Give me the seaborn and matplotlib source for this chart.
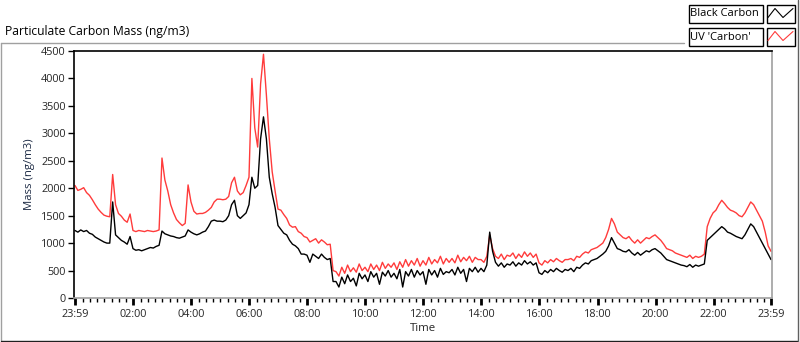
import numpy as np
import pandas as pd
import matplotlib
matplotlib.use("Agg")
import matplotlib.pyplot as plt
from matplotlib.ticker import FixedLocator
from matplotlib.patches import Rectangle
from matplotlib.lines import Line2D
import seaborn as sns

# ---------------- data (6-minute steps from 23:59 to 23:59) ----------------
minutes = np.arange(0, 1441, 6)

uv_carbon = [
    2050, 1960, 1980, 2010, 1920, 1870, 1790, 1700, 1620, 1560,
    1510, 1490, 1480, 2250, 1700, 1540, 1490, 1420, 1380, 1530,
    1230, 1210, 1230, 1220, 1210, 1230, 1220, 1210, 1220, 1240,
    2550, 2150, 1950, 1700, 1550, 1430, 1370, 1320, 1360, 2060,
    1750, 1580, 1530, 1540, 1540, 1560, 1600, 1650, 1750, 1800,
    1800, 1790, 1800, 1850, 2100, 2200, 1950, 1880, 1920, 2050,
    2200, 4000, 3100, 2750, 3900, 4440, 3700, 2900, 2300, 1950,
    1620, 1600, 1520, 1450, 1330, 1290, 1300, 1210, 1180, 1120,
    1100, 1020, 1050, 1080, 1000, 1060, 1020, 970, 980, 500,
    480, 400, 560, 450, 600, 480, 550, 470, 620, 500,
    560, 480, 620, 520, 600, 500, 650, 540, 620, 560,
    640, 520, 660, 560, 700, 580, 680, 600, 720, 580,
    680, 600, 740, 620, 700, 640, 760, 620, 720, 650,
    720, 640, 780, 660, 740, 680, 760, 650, 740, 700,
    700, 650, 760, 1150, 900, 760, 720, 800, 700, 780,
    760, 820, 720, 800, 740, 840, 760, 820, 740, 800,
    640, 600, 680, 640, 700, 660, 720, 680, 650, 700,
    700, 720, 680, 760, 740, 800, 840, 820, 880, 900,
    920, 960, 1000, 1100, 1250, 1450, 1350, 1200, 1150, 1100,
    1080, 1120, 1050, 1000, 1060, 1000, 1050, 1100, 1080, 1120,
    1150, 1100, 1050, 980, 900, 880, 860, 820, 800, 780,
    760, 740, 780, 720, 760, 740, 760, 800, 1300, 1450,
    1550, 1600, 1700, 1780, 1720, 1650, 1600, 1580, 1550, 1500,
    1480, 1550, 1650, 1750, 1700, 1600, 1500, 1400, 1200, 950,
    850,
]

black_carbon = [
    1230, 1200, 1240, 1210, 1230, 1180, 1160, 1110, 1080, 1050,
    1020, 1000, 1000, 1750, 1150, 1100, 1050, 1020, 980, 1120,
    900, 870, 880, 860, 880, 900, 920, 910, 940, 960,
    1220, 1170, 1150, 1130, 1120, 1100, 1090, 1110, 1130, 1240,
    1200, 1170, 1150, 1170, 1200, 1220, 1300, 1400, 1420, 1400,
    1400, 1390, 1420, 1500, 1700, 1780, 1500, 1450, 1500, 1550,
    1700, 2200, 2000, 2050, 2900, 3300, 2900, 2200, 1900, 1650,
    1320, 1250, 1180, 1150, 1050, 980, 950, 900, 800, 800,
    780, 650, 800, 760, 720, 800, 740, 700, 720, 300,
    300, 200, 380, 260, 420, 300, 360, 220, 450, 350,
    420, 300, 480, 380, 450, 250, 470, 400, 500, 380,
    450, 350, 520, 200, 480, 400, 520, 380, 500, 420,
    480, 250, 520, 420, 500, 380, 540, 430, 480, 460,
    520, 420, 560, 450, 520, 300, 540, 480, 560, 470,
    540, 480, 600, 1200, 850, 650, 580, 640, 560, 620,
    600, 660, 580, 640, 600, 680, 620, 660, 600, 640,
    460, 430, 500, 460, 520, 480, 540, 500, 470, 520,
    500, 540, 480, 560, 540, 600, 640, 620, 680, 700,
    720, 760, 800, 850, 950, 1100, 1000, 900, 880, 850,
    840, 880, 820, 780, 830, 780, 820, 860, 840, 880,
    900, 860, 820, 760, 700, 680, 660, 640, 620, 600,
    590, 570, 610, 560, 600, 580, 600, 620, 1050, 1100,
    1150, 1200, 1250, 1300, 1260, 1200, 1180, 1150, 1120, 1100,
    1080, 1150, 1250, 1350, 1300, 1200, 1100, 1000, 900, 800,
    700,
]

x_tick_minutes = [0, 121, 241, 361, 481, 601, 721, 841, 961, 1081, 1201, 1321, 1440]
x_tick_labels = ["23:59", "02:00", "04:00", "06:00", "08:00", "10:00", "12:00",
                 "14:00", "16:00", "18:00", "20:00", "22:00", "23:59"]
y_ticks = [0, 500, 1000, 1500, 2000, 2500, 3000, 3500, 4000, 4500]

series_names = ["Black Carbon", "UV 'Carbon'"]
series_colors = ["#000000", "#ff3b3b"]

# ---------------- styling ----------------
sns.set_style("white")
plt.rcParams["font.family"] = ["Open Sans", "DejaVu Sans"]

W, H = 800, 342
fig = plt.figure(figsize=(W / 100, H / 100), dpi=100)
fig.patch.set_facecolor("white")

# overlay axes in pixel coordinates for the frame and the legend
ov = fig.add_axes([0, 0, 1, 1])
ov.set_xlim(0, W)
ov.set_ylim(H, 0)
ov.axis("off")
ov.patch.set_alpha(0)

gray = "#a0a0a0"
ov.add_line(Line2D([0.5, 684], [42.5, 42.5], color=gray, lw=1))
ov.add_line(Line2D([0.5, 0.5], [42.5, 340.5], color=gray, lw=1))
ov.add_line(Line2D([0.5, 797.5], [340.5, 340.5], color="#202020", lw=1))
ov.add_line(Line2D([797.5, 797.5], [0, 340.5], color="#606060", lw=1))

ov.text(5, 32, "Particulate Carbon Mass (ng/m3)", fontsize=8.7, va="center", ha="left", color="black")

# legend boxes
rows_y = [4.5, 27.5]
for name, col, y0 in zip(series_names, series_colors, rows_y):
    ov.add_patch(Rectangle((688.5, y0), 74, 18, facecolor="white", edgecolor="black", lw=1))
    ov.text(690.5, y0 + 9.5, name, fontsize=8.0, va="center", ha="left", color="black")
    ov.add_patch(Rectangle((766.5, y0), 28, 18, facecolor="white", edgecolor="black", lw=1))
    ov.add_line(Line2D([768, 775, 783, 793], [y0 + 13, y0 + 4, y0 + 13, y0 + 4], color=col, lw=0.8))

# main axes
L, R, T, B = 74, 772, 51, 298
ax = fig.add_axes([L / W, (H - B) / H, (R - L) / W, (B - T) / H])
ax.set_facecolor("white")

df = pd.DataFrame({"minute": minutes, "uv": uv_carbon, "bc": black_carbon})
sns.lineplot(data=df, x="minute", y="uv", ax=ax, color=series_colors[1], lw=1.0, legend=False)
sns.lineplot(data=df, x="minute", y="bc", ax=ax, color=series_colors[0], lw=1.0, legend=False)

ax.set_xlim(-2, 1442)
ax.set_ylim(0, 4500)

for s in ["top", "left"]:
    ax.spines[s].set_color("black")
    ax.spines[s].set_linewidth(1.2)
for s in ["right", "bottom"]:
    ax.spines[s].set_color(gray)
    ax.spines[s].set_linewidth(1.2)

ax.set_yticks(y_ticks)
ax.set_yticklabels([str(v) for v in y_ticks])
ax.set_xticks(x_tick_minutes)
ax.set_xticklabels(x_tick_labels)
ax.xaxis.set_minor_locator(FixedLocator(list(range(1, 1440, 15))))

ax.tick_params(axis="y", direction="out", length=4, width=1, color="black",
               labelsize=7.8, pad=2, left=True)
ax.tick_params(axis="x", which="major", direction="out", length=5, width=2, color="black",
               labelsize=7.8, pad=3, bottom=True)
ax.tick_params(axis="x", which="minor", direction="out", length=3, width=1, color="black", bottom=True)

ax.set_xlabel("Time", fontsize=8.2, labelpad=2)
ax.set_ylabel("Mass (ng/m3)", fontsize=8.2, labelpad=4, color="#1c2a44")

fig.savefig("out.png", dpi=100, facecolor="white")
